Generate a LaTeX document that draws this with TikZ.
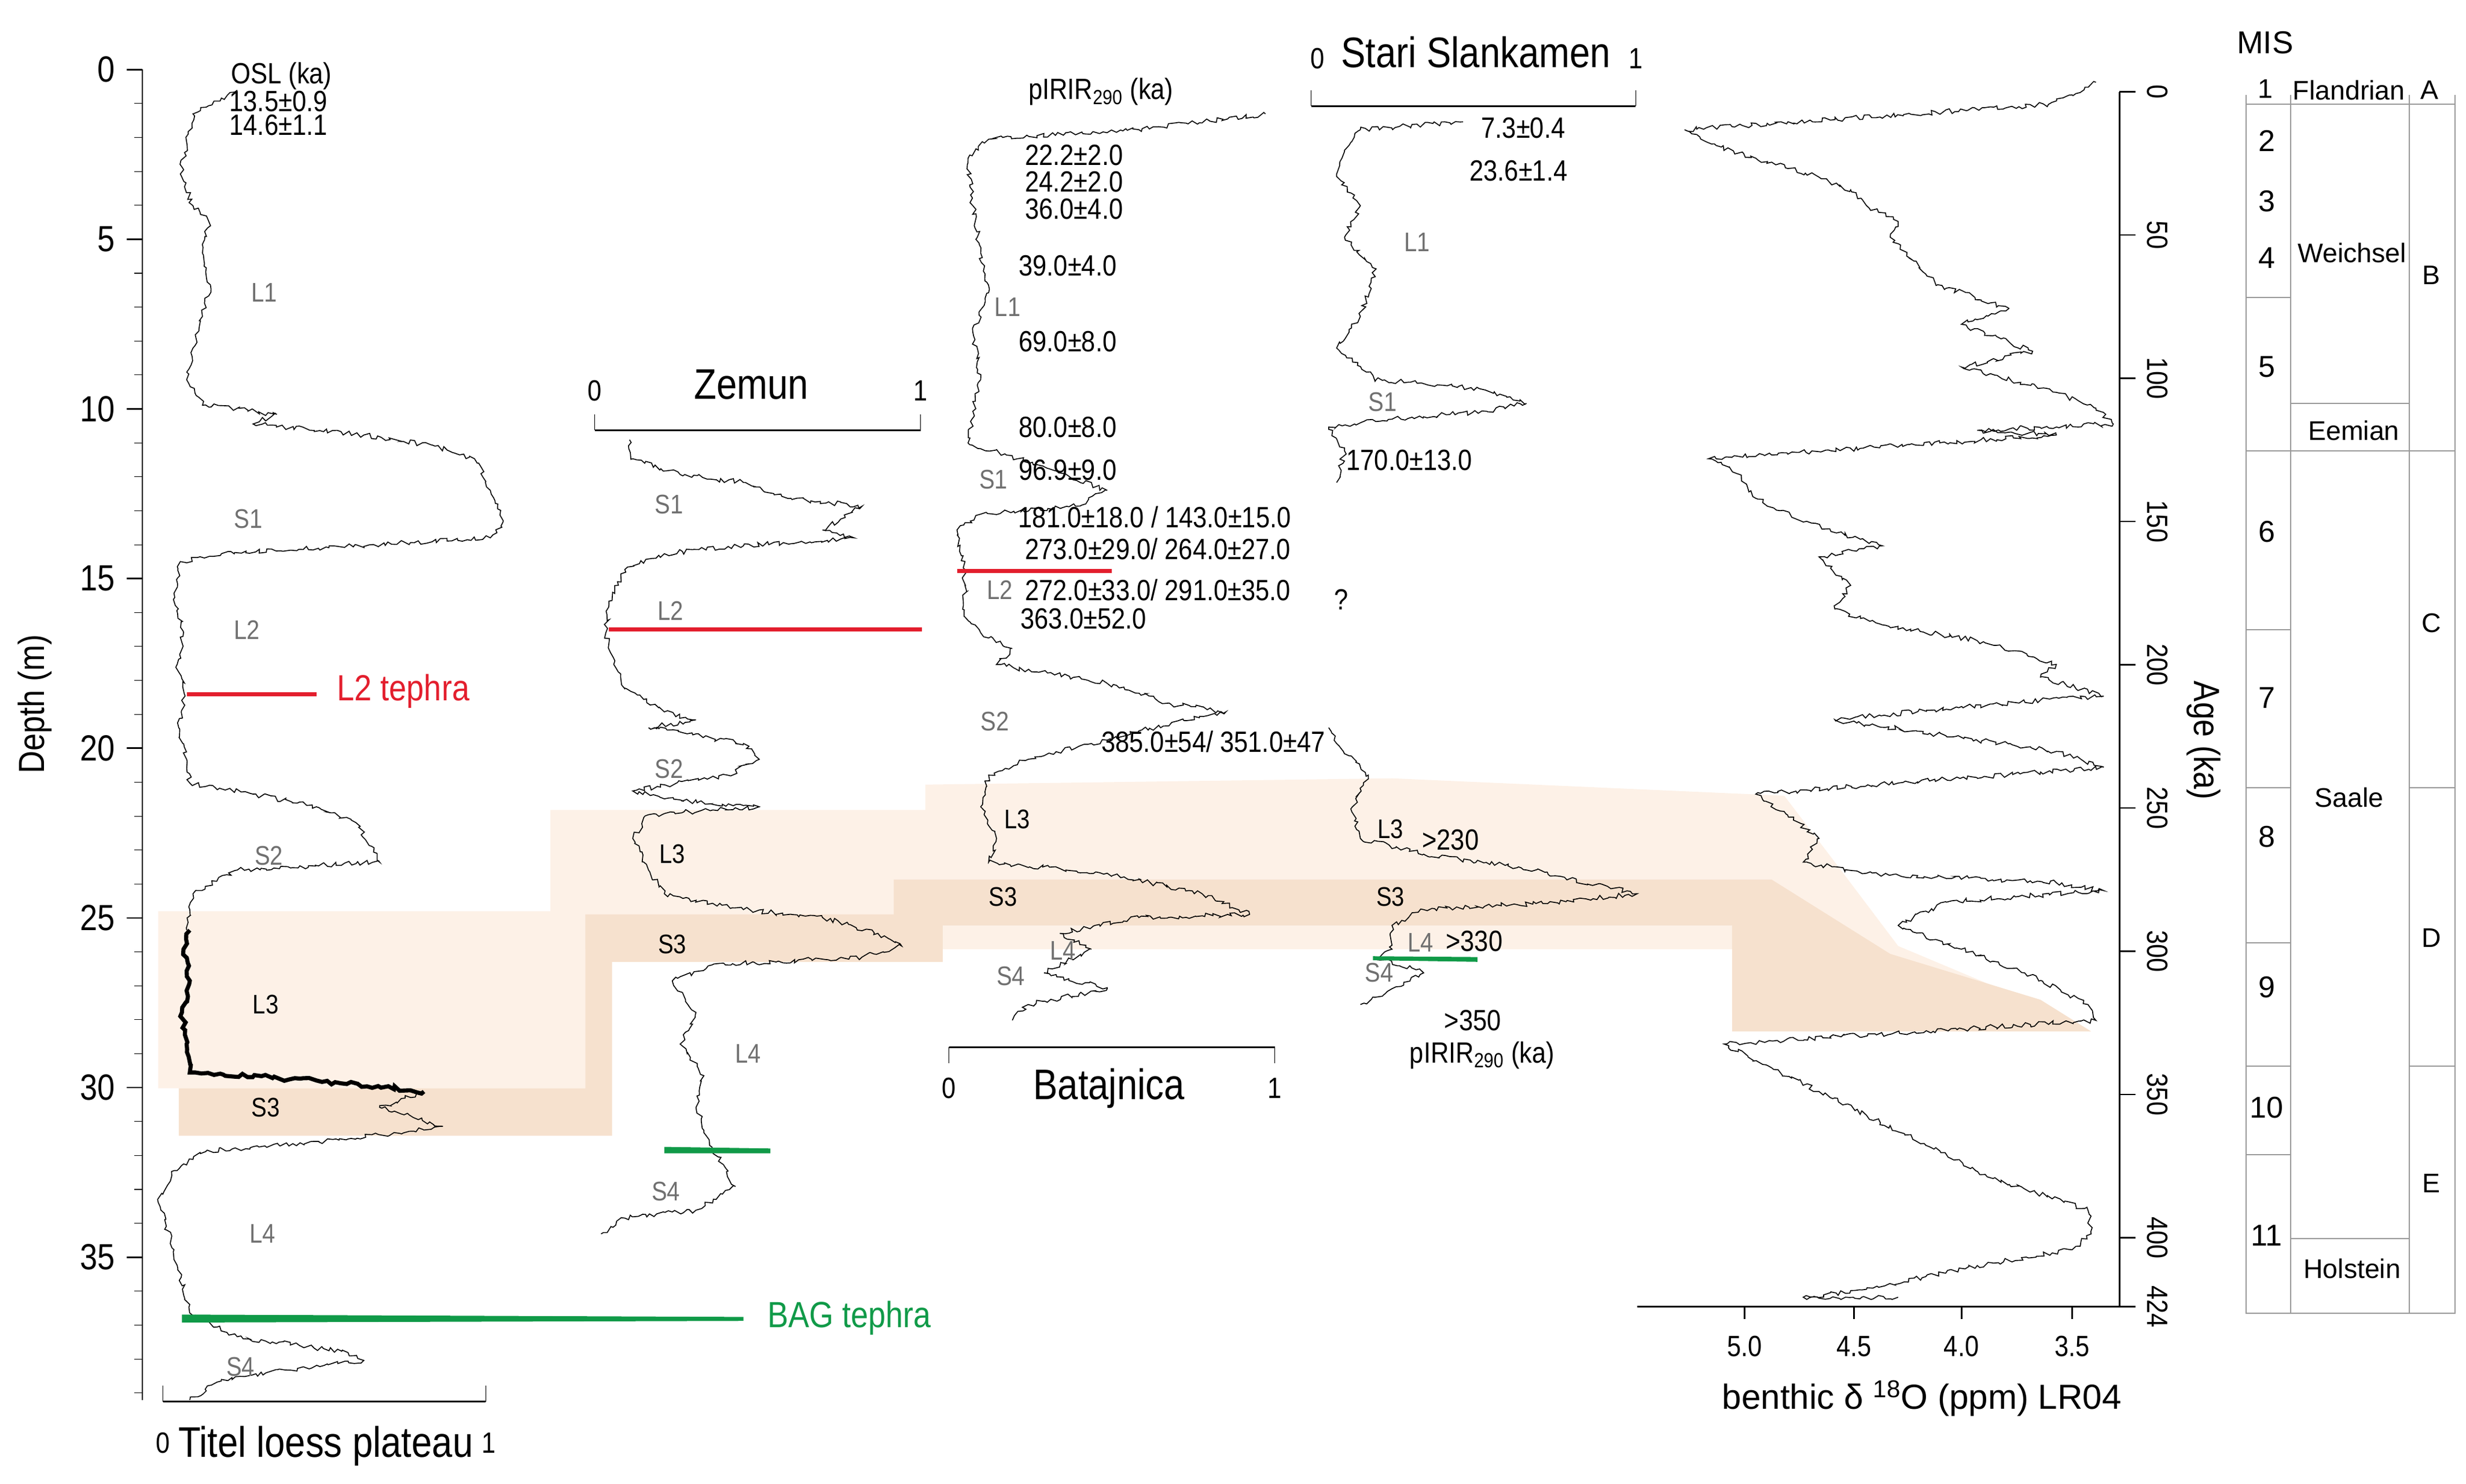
\documentclass[tikz,border=0pt]{standalone}
\usepackage{fontspec}
\setmainfont{Liberation Sans}[FakeStretch=0.86]
\newfontfamily\wide{Liberation Sans}
\usetikzlibrary{decorations.pathmorphing}
\definecolor{bandL}{HTML}{FDF1E7}
\definecolor{bandD}{HTML}{F6E1CE}
\definecolor{tred}{HTML}{E31E2D}
\definecolor{tgreen}{HTML}{109A48}
\definecolor{lgray}{HTML}{707070}
\begin{document}
\begin{tikzpicture}[x=1pt,y=-1pt,
  curve/.style={draw=black,line width=0.6pt,decorate,decoration={random steps,segment length=2.2pt,amplitude=1.6pt}},
  ax/.style={line width=1pt},
  lay/.style={font=\fontsize{17}{17}\selectfont,text=lgray,inner sep=0},
  layb/.style={font=\fontsize{17}{17}\selectfont,text=black,inner sep=0},
  dat/.style={font=\fontsize{18.5}{18.5}\selectfont,inner sep=0},
  tick/.style={font=\fontsize{23}{23}\selectfont,inner sep=0},
  ttl/.style={font=\fontsize{27}{27}\selectfont,inner sep=0},
  mis/.style={font=\wide\fontsize{17}{17}\selectfont,inner sep=0},
  mgrid/.style={draw=gray!80,line width=0.7pt}]
\pgfmathsetseed{7}
\useasboundingbox (0,0) rectangle (1559,938);
% bands
\fill[bandL] (100,576)--(348,576)--(348,512)--(585,512)--(585,496)--(880,492)--(1128,503)--(1160,545)--(1200,598)--(1300,640)--(1095,640)--(1095,600)--(370,600)--(370,688)--(100,688)--cycle;
\fill[bandD] (113,688)--(370,688)--(370,578)--(565,578)--(565,556)--(1120,556)--(1195,603)--(1290,632)--(1322,652)--(1095,652)--(1095,585)--(596,585)--(596,608)--(387,608)--(387,718)--(113,718)--cycle;
% depth axis
\draw[ax] (90,44)--(90,885);
\foreach \d in {0,...,39}{\draw (90,{44+21.45*\d})--(85,{44+21.45*\d});}
\foreach \d in {0,5,...,35}{\draw[ax] (90,{44+21.45*\d})--(80,{44+21.45*\d}); \node[tick,anchor=east] (dl\d) at (73,{44+21.45*\d}) {\d};}
\node[tick,rotate=90] (depth) at (22,445) {Depth (m)};
% Titel
\draw[curve] plot coordinates {(150,57)(140,62)(122,72)(118,90)(114,110)(122,130)(132,140)(128,160)(133,180)(128,200)(122,220)(118,240)(124,250)(130,256)(175,262)(160,268)(230,275)(275,282)(300,290)(310,310)(318,330)(310,340)(140,350)(114,355)(110,375)(116,400)(112,420)(117,440)(113,460)(118,480)(120,495)(160,502)(200,510)(225,520)(235,535)(240,545)(150,550)(122,565)(120,575)(118,588)};
\draw[line width=2.6pt,decorate,decoration={random steps,segment length=3pt,amplitude=1.5pt}] plot coordinates {(120,588)(116,600)(120,620)(115,640)(118,660)(120,678)(200,683)(268,690)};
\draw[curve] plot coordinates {(268,690)(240,700)(280,712)(220,720)(130,728)(110,740)(100,760)(110,790)(120,830)(150,845)(220,855)(230,860)(180,866)(140,872)(120,885)};
\draw[ax] (103,886)--(307,886); \draw (103,886)--(103,876); \draw (307,886)--(307,876);
\node[dat] (t0) at (103,912) {0}; \node[dat] (t1) at (309,912) {1};
\node[ttl] (titel) at (206,914) {Titel loess plateau};
\node[dat] (osl) at (178,48) {OSL (ka)};
\node[dat] (o1) at (176,64) {13.5±0.9};
\node[dat] (o2) at (176,79) {14.6±1.1};
\node[lay] at (167,185) {L1}; \node[lay] at (157,328) {S1}; \node[lay] at (156,398) {L2};
\node[lay] at (170,541) {S2}; \node[layb] at (168,635) {L3}; \node[layb] at (168,700) {S3};
\node[lay] at (166,780) {L4}; \node[lay] at (152,864) {S4};
\coordinate (r1a) at (118,439); \coordinate (r1b) at (200,439);
\draw[tred,line width=2.5pt] (r1a)--(r1b);
\node[font=\fontsize{23}{23}\selectfont,text=tred,anchor=west,inner sep=0] (l2t) at (213,437) {L2 tephra};
\fill[tgreen] (115,831)--(470,832.5)--(470,835)--(115,836)--cycle;
\node[font=\fontsize{23}{23}\selectfont,text=tgreen,anchor=west,inner sep=0] (bag) at (485,833) {BAG tephra};
% Zemun
\draw[ax] (376,272)--(582,272); \draw (376,272)--(376,262); \draw (582,272)--(582,262);
\node[dat] (z0) at (376,247) {0}; \node[dat] (z1) at (582,247) {1};
\node[ttl] (zemun) at (475,243) {Zemun};
\draw[curve] plot coordinates {(398,278)(400,290)(430,300)(470,305)(500,315)(545,320)(520,335)(540,340)(470,345)(420,350)(395,360)(385,380)(383,400)(388,420)(395,435)(420,450)(440,455)(410,460)(470,470)(480,480)(460,490)(400,500)(420,505)(480,510)(410,515)(400,530)(410,550)(420,565)(470,575)(520,580)(555,590)(570,598)(545,605)(450,610)(425,620)(440,640)(430,660)(445,680)(440,700)(450,725)(465,750)(440,765)(395,770)(380,780)};
\node[lay] at (423,319) {S1}; \node[lay] at (424,386) {L2}; \node[lay] at (423,486) {S2};
\node[layb] at (425,540) {L3}; \node[layb] at (425,597) {S3}; \node[lay] at (473,666) {L4}; \node[lay] at (421,753) {S4};
\coordinate (r2a) at (385,398); \coordinate (r2b) at (583,398);
\draw[tred,line width=2.5pt] (r2a)--(r2b);
\fill[tgreen] (420,725)--(487,726)--(487,729)--(420,729)--cycle;
% Batajnica
\draw[curve] plot coordinates {(800,72)(720,82)(625,88)(612,100)(615,130)(620,160)(625,185)(615,210)(620,240)(615,260)(612,280)(660,295)(700,310)(680,320)(620,325)(605,335)(610,360)(610,390)(620,400)(640,410)(630,420)(700,432)(740,445)(775,450)(720,462)(690,470)(650,480)(625,490)(620,510)(630,530)(625,545)(700,552)(760,565)(790,578)(720,580)(670,590)(690,600)(660,615)(700,625)(650,635)(640,645)};
\draw[ax] (600,662)--(806,662); \draw (600,662)--(600,672); \draw (806,662)--(806,672);
\node[dat] (b0) at (600,688) {0}; \node[dat] (b1) at (806,688) {1};
\node[ttl] (bat) at (701,688) {Batajnica};
\node[dat] (pir1) at (696,58) {pIRIR\textsubscript{290} (ka)};
\node[dat] at (679,98) {22.2±2.0}; \node[dat] at (679,115) {24.2±2.0}; \node[dat] at (679,132) {36.0±4.0};
\node[dat] at (675,168) {39.0±4.0}; \node[dat] at (675,216) {69.0±8.0}; \node[dat] at (675,270) {80.0±8.0};
\node[dat] at (675,297) {96.9±9.0};
\node[dat] at (730,327) {181.0±18.0 / 143.0±15.0};
\node[dat] at (732,347) {273.0±29.0/ 264.0±27.0};
\node[dat] at (732,373) {272.0±33.0/ 291.0±35.0};
\node[dat] at (685,391) {363.0±52.0};
\node[dat] at (848,379) {?};
\node[dat] at (767,469) {385.0±54/ 351.0±47};
\node[lay] at (637,194) {L1}; \node[lay] at (628,303) {S1}; \node[lay] at (632,373) {L2}; \node[lay] at (629,456) {S2};
\node[layb] at (643,518) {L3}; \node[layb] at (634,567) {S3}; \node[lay] at (672,601) {L4}; \node[lay] at (639,617) {S4};
\coordinate (r3a) at (605,361); \coordinate (r3b) at (703,361);
\draw[tred,line width=2.5pt] (r3a)--(r3b);
% Stari Slankamen
\draw[ax] (829,67)--(1034,67); \draw (829,67)--(829,57); \draw (1034,67)--(1034,57);
\node[dat] (s0) at (833,37) {0}; \node[dat] (s1) at (1034,37) {1};
\node[ttl] (stari) at (933,33) {Stari Slankamen};
\draw[curve] plot coordinates {(925,77)(860,82)(850,95)(845,110)(860,130)(850,150)(870,170)(860,200)(845,220)(870,240)(930,245)(965,255)(940,260)(880,265)(840,270)(850,285)(845,305)};
\draw[curve] plot coordinates {(840,460)(845,470)(865,490)(855,510)(860,530)(900,540)(960,548)(1035,565)(990,570)(900,575)(880,585)(880,600)(870,605)(900,615)(880,625)(860,635)};
\node[dat] at (963,81) {7.3±0.4}; \node[dat] at (960,108) {23.6±1.4};
\node[lay] at (896,153) {L1}; \node[lay] at (874,254) {S1}; \node[dat] at (891,291) {170.0±13.0};
\node[layb] at (879,524) {L3}; \node[dat] at (917,531) {>230}; \node[layb] at (879,567) {S3};
\node[lay] at (898,596) {L4}; \node[dat] at (932,595) {>330}; \node[lay] at (872,615) {S4};
\node[dat] at (931,645) {>350}; \node[dat] (pir2) at (937,667) {pIRIR\textsubscript{290} (ka)};
\fill[tgreen] (868,604.5)--(934,605)--(934,608)--(868,607)--cycle;
% LR04
\draw[curve] plot coordinates {(1325,52)(1310,60)(1295,66)(1065,82)(1085,92)(1110,100)(1150,112)(1170,120)(1180,130)(1200,140)(1195,150)(1210,165)(1225,180)(1270,195)(1240,205)(1285,222)(1240,232)(1300,248)(1325,258)(1336,268)(1250,272)(1300,275)(1080,290)(1100,300)(1110,315)(1140,330)(1190,345)(1150,352)(1170,370)(1160,385)(1190,395)(1250,405)(1300,420)(1290,428)(1330,440)(1260,445)(1160,455)(1230,465)(1300,475)(1330,485)(1200,495)(1110,502)(1130,515)(1150,530)(1140,545)(1180,552)(1300,558)(1330,563)(1230,570)(1200,585)(1240,600)(1280,615)(1320,635)(1325,645)(1090,660)(1120,675)(1150,690)(1180,705)(1220,725)(1260,745)(1320,765)(1322,780)(1310,790)(1250,800)(1180,815)(1140,820)(1200,820)};
\draw[ax] (1340,58)--(1340,826);
\foreach \a in {0,50,...,400}{\draw[ax] (1340,{58+1.811*\a})--(1350,{58+1.811*\a}); \node[dat,rotate=-90] (ag\a) at (1364,{58+1.811*\a}) {\a};}
\draw[ax] (1340,826)--(1350,826); \node[dat,rotate=-90] (ag424) at (1364,826) {424};
\node[tick,rotate=-90] (age) at (1393,468) {Age (ka)};
\draw[ax] (1035,826)--(1345,826);
\foreach \v/\xx in {5.0/1103,4.5/1172,4.0/1240,3.5/1310}{\draw[ax] (\xx,826)--(\xx,834); \node[dat] at (\xx,851) {\v};}
\node[font=\wide\fontsize{22}{22}\selectfont,inner sep=0] (bx) at (1215,884) {benthic δ \textsuperscript{18}O (ppm) LR04};
% MIS table
\draw[mgrid] (1420,60)--(1420,830)--(1552,830)--(1552,60);
\draw[mgrid] (1420,66)--(1552,66);
\draw[mgrid] (1448,60)--(1448,830); \draw[mgrid] (1523,60)--(1523,830);
\foreach \yy in {188,285,398,498,596,674,730}{\draw[mgrid] (1420,\yy)--(1448,\yy);}
\foreach \yy in {255,285,783}{\draw[mgrid] (1448,\yy)--(1523,\yy);}
\foreach \yy in {285,498,674}{\draw[mgrid] (1523,\yy)--(1552,\yy);}
\node[mis,font=\wide\fontsize{20}{20}\selectfont] (mist) at (1432,27) {MIS};
\node[mis] at (1432,56) {1}; \node[mis] at (1485,57) {Flandrian}; \node[mis] at (1536,57) {A};
\foreach \n/\yy in {2/89,3/127,4/163,5/232,6/336,7/441,8/529,9/624,10/700,11/781}{\node[mis,font=\wide\fontsize{19}{19}\selectfont] at (1433,\yy) {\n};}
\node[mis] at (1487,160) {Weichsel}; \node[mis] at (1488,272) {Eemian};
\node[mis] at (1485,504) {Saale}; \node[mis] at (1487,802) {Holstein};
\node[mis] at (1537,174) {B}; \node[mis] at (1537,394) {C}; \node[mis] at (1537,593) {D}; \node[mis] at (1537,748) {E};
\end{tikzpicture}
\end{document}
